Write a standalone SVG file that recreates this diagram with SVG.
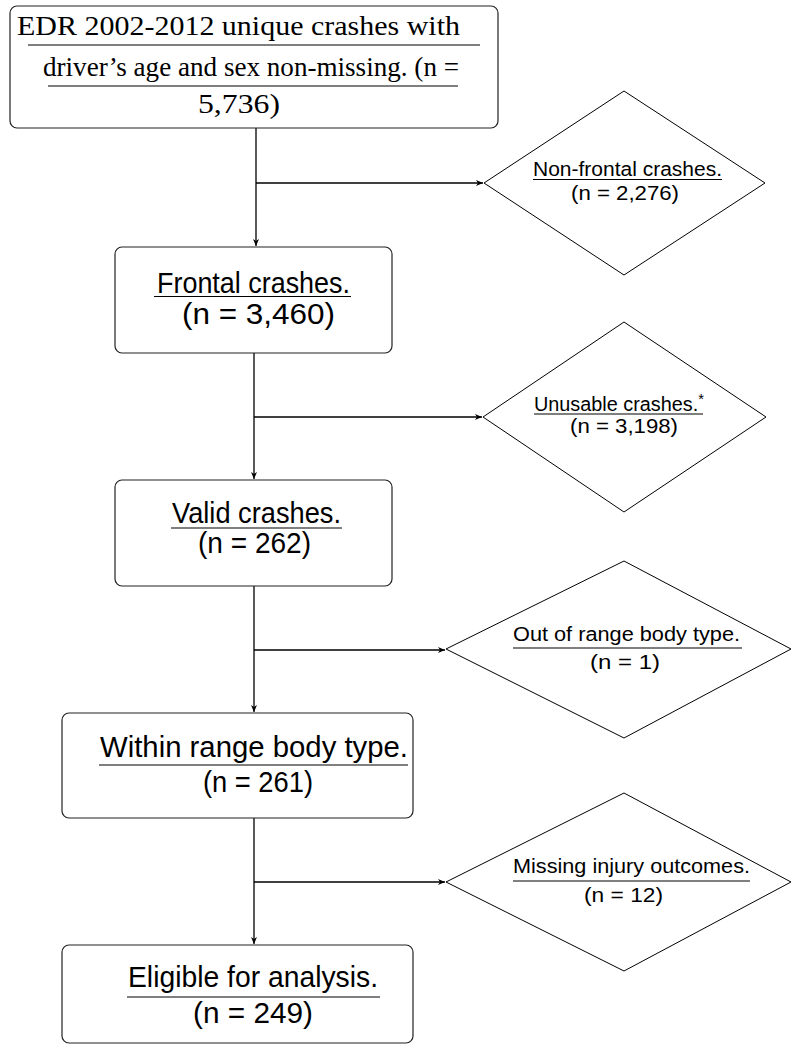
<svg xmlns="http://www.w3.org/2000/svg" width="792" height="1048" viewBox="0 0 792 1048">
<defs>
<marker id="arr" markerWidth="8" markerHeight="8" refX="7" refY="4" orient="auto" markerUnits="userSpaceOnUse">
<path d="M0,1 L7,4 L0,7 L2,4 Z" fill="#000"/>
</marker>
<style>
.box{fill:#fff;stroke:#222;stroke-width:1.2}
.dia{fill:#fff;stroke:#000;stroke-width:1}
.ln{stroke:#000;stroke-width:1.3;fill:none}
.ul{stroke:#000;stroke-width:1.2}
.ser{font-family:"Liberation Serif","Times New Roman",serif;font-size:28px;fill:#000}
.big{font-family:"Liberation Sans",Arial,sans-serif;font-size:29px;fill:#000}
.sm{font-family:"Liberation Sans",Arial,sans-serif;font-size:20px;fill:#000}
</style>
</defs>
<rect width="792" height="1048" fill="#fff"/>
<g id="connectors">
<path class="ln" d="M256,128 V246" marker-end="url(#arr)"/>
<path class="ln" d="M256,183 H483" marker-end="url(#arr)"/>
<path class="ln" d="M254,353 V479" marker-end="url(#arr)"/>
<path class="ln" d="M254,417 H482" marker-end="url(#arr)"/>
<path class="ln" d="M254,586 V712" marker-end="url(#arr)"/>
<path class="ln" d="M254,650 H445" marker-end="url(#arr)"/>
<path class="ln" d="M254,818 V944" marker-end="url(#arr)"/>
<path class="ln" d="M254,882 H445" marker-end="url(#arr)"/>
</g>
<g id="n1">
<rect class="box" x="10" y="6" width="488" height="122" rx="7"/>
<text class="ser" x="17" y="35" textLength="443" lengthAdjust="spacingAndGlyphs">EDR  2002-2012 unique  crashes with</text>
<line class="ul" x1="28" y1="45" x2="480" y2="45"/>
<text class="ser" x="43" y="76" textLength="416" lengthAdjust="spacingAndGlyphs">driver’s age and sex non-missing. (n =</text>
<line class="ul" x1="48" y1="86" x2="458" y2="86"/>
<text class="ser" x="198" y="113" textLength="82" lengthAdjust="spacingAndGlyphs">5,736)</text>
</g>
<g id="d1">
<polygon class="dia" points="624,91 765,183 624,275 484,183"/>
<text class="sm" x="533" y="176" textLength="189" lengthAdjust="spacingAndGlyphs">Non-frontal  crashes.</text>
<line class="ul" x1="533" y1="179.5" x2="722" y2="179.5"/>
<text class="sm" x="571" y="200" textLength="108" lengthAdjust="spacingAndGlyphs">(n = 2,276)</text>
</g>
<g id="n2">
<rect class="box" x="115" y="247" width="277" height="106" rx="7"/>
<text class="big" x="157" y="293" textLength="193" lengthAdjust="spacingAndGlyphs">Frontal crashes.</text>
<line class="ul" x1="154" y1="296.5" x2="351" y2="296.5"/>
<text class="big" x="182" y="324" textLength="153" lengthAdjust="spacingAndGlyphs">(n = 3,460)</text>
</g>
<g id="d2">
<polygon class="dia" points="624,322 766,417 624,512 483,417"/>
<text class="sm" x="534" y="411" textLength="170" lengthAdjust="spacingAndGlyphs">Unusable crashes.<tspan dy="-7" font-size="15">*</tspan></text>
<line class="ul" x1="534" y1="414" x2="703" y2="414"/>
<text class="sm" x="570" y="433" textLength="108" lengthAdjust="spacingAndGlyphs">(n = 3,198)</text>
</g>
<g id="n3">
<rect class="box" x="115" y="480" width="277" height="106" rx="7"/>
<text class="big" x="172" y="523" textLength="169" lengthAdjust="spacingAndGlyphs">Valid crashes.</text>
<line class="ul" x1="171" y1="528" x2="342" y2="528"/>
<text class="big" x="198" y="553" textLength="113" lengthAdjust="spacingAndGlyphs">(n = 262)</text>
</g>
<g id="d3">
<polygon class="dia" points="624,561 791,649 624,738 446,649"/>
<text class="sm" x="513" y="641" textLength="227" lengthAdjust="spacingAndGlyphs">Out  of range body type.</text>
<line class="ul" x1="513" y1="648" x2="742" y2="648"/>
<text class="sm" x="590" y="669" textLength="70" lengthAdjust="spacingAndGlyphs">(n = 1)</text>
</g>
<g id="n4">
<rect class="box" x="62" y="713" width="351" height="105" rx="7"/>
<text class="big" x="100" y="757" textLength="308" lengthAdjust="spacingAndGlyphs">Within range body type.</text>
<line class="ul" x1="99" y1="765" x2="408" y2="765"/>
<text class="big" x="203" y="792" textLength="110" lengthAdjust="spacingAndGlyphs">(n = 261)</text>
</g>
<g id="d4">
<polygon class="dia" points="624,793 791,882 624,971 446,882"/>
<text class="sm" x="513" y="873" textLength="237" lengthAdjust="spacingAndGlyphs">Missing injury  outcomes.</text>
<line class="ul" x1="513" y1="881" x2="750" y2="881"/>
<text class="sm" x="584" y="902" textLength="79" lengthAdjust="spacingAndGlyphs">(n = 12)</text>
</g>
<g id="n5">
<rect class="box" x="62" y="945" width="351" height="98" rx="7"/>
<text class="big" x="128" y="987" textLength="250" lengthAdjust="spacingAndGlyphs">Eligible  for analysis.</text>
<line class="ul" x1="127" y1="997" x2="380" y2="997"/>
<text class="big" x="193" y="1023" textLength="120" lengthAdjust="spacingAndGlyphs">(n = 249)</text>
</g>
</svg>
